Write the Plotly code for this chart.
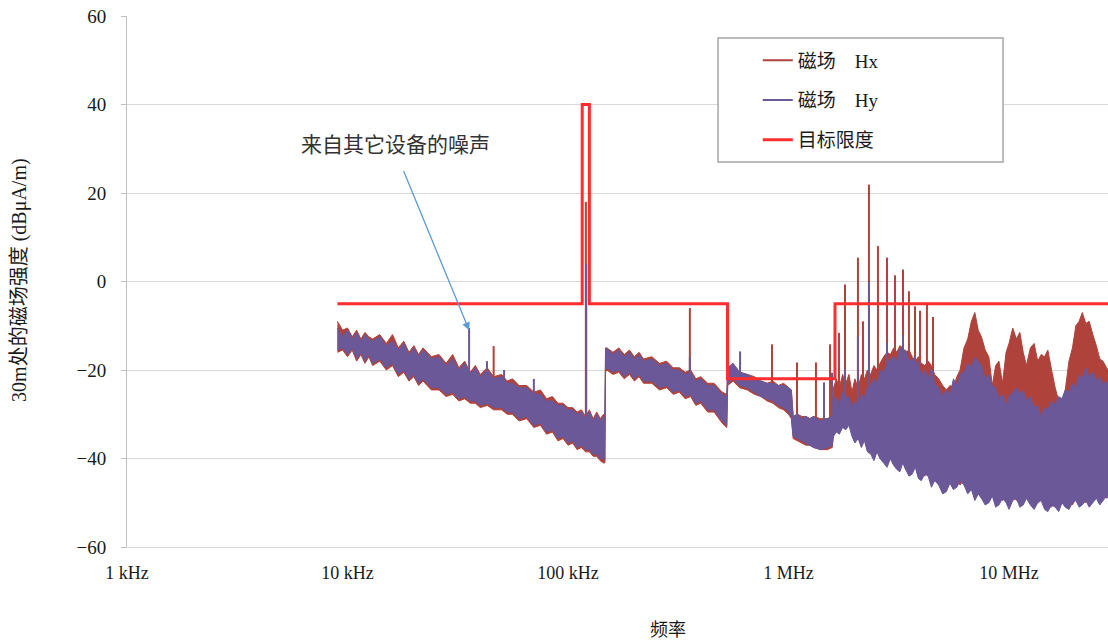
import math
import plotly.graph_objects as go

# ---------------- data ----------------
freq_khz = [
    9, 9.5, 10, 10.5, 11, 11.5, 12, 12.5, 13, 14,
    15, 16, 17, 18, 19, 20, 21, 22, 24, 26,
    28, 30, 32, 34, 36, 38, 40, 43, 46, 50,
    53, 56, 60, 65, 70, 75, 80, 85, 90, 95,
    100, 105, 110, 115, 120, 125, 130, 135, 140, 145,
    147,
    148, 150, 160, 170, 180, 190, 200, 210, 220, 240,
    260, 280, 300, 320, 340, 360, 380, 400, 430, 460,
    500, 525,
    530, 560, 600, 650, 700, 750, 800, 850, 900, 950,
    1000, 1030, 1050, 1100, 1150, 1200, 1250, 1300, 1400, 1500,
    1580,
    1600, 1650, 1700, 1760, 1820, 1880, 1940, 2000, 2070, 2140,
    2210, 2280, 2360, 2440, 2520, 2600, 2700, 2800, 2900, 3000,
    3100, 3200, 3300, 3400, 3520, 3640, 3760, 3880, 4000, 4150,
    4300, 4450, 4600, 4800, 5000, 5200, 5400, 5600, 5800, 6000,
    6250, 6500, 6750, 7000, 7250, 7500, 7800, 8100, 8400, 8700,
    9000, 9350, 9700, 10000, 10400, 10800, 11200, 11600, 12000, 12500,
    13000, 13500, 14000, 14500, 15000, 15600, 16200, 16800, 17400, 18000,
    18700, 19400, 20100, 20800, 21500, 22300, 23100, 24000, 24900, 25800,
    26700, 27700, 28200,
]

hy_hi = [
    -10.5, -12.5, -11.0, -13.0, -11.5, -13.5, -12.0, -13.0, -13.5, -12.5,
    -14.5, -13.5, -15.5, -14.0, -16.5, -15.0, -17.0, -15.5, -17.5, -17.0,
    -19.0, -17.5, -20.0, -18.5, -21.0, -19.5, -21.5, -20.0, -22.0, -21.5,
    -23.0, -23.0, -24.0, -24.0, -25.5, -25.5, -27.0, -27.0, -28.0, -28.0,
    -29.0, -29.0, -30.0, -29.5, -31.0, -29.5, -31.5, -30.0, -31.5, -30.5,
    -31.0,
    -15.5, -15.0, -16.5, -15.5, -17.0, -16.0, -17.5, -16.5, -18.0, -17.5,
    -19.0, -18.5, -20.0, -20.0, -21.0, -20.5, -22.5, -22.0, -23.5, -23.5,
    -25.5, -26.0,
    -19.5, -18.5, -20.5, -21.0, -22.0, -22.5, -23.0, -23.0, -23.5, -23.5,
    -24.0, -24.5, -30.5, -30.0, -31.0, -30.5, -31.0, -30.5, -31.5, -31.0,
    -30.5,
    -27.0, -26.0, -28.0, -25.0, -26.5, -26.0, -28.5, -27.0, -28.0, -25.5,
    -26.5, -24.0, -23.5, -22.0, -23.0, -20.0, -20.5, -18.5, -17.5, -17.0,
    -18.0, -15.0, -16.0, -15.5, -18.0, -17.5, -19.0, -18.0, -21.5, -20.0,
    -22.0, -19.5, -23.0, -24.0, -26.0, -24.5, -25.5, -22.0, -23.5, -21.0,
    -20.5, -18.5, -19.5, -17.0, -18.0, -19.0, -22.0, -21.0, -23.5, -24.0,
    -26.5, -25.5, -28.0, -26.0, -25.0, -24.0, -25.5, -24.5, -27.0, -26.0,
    -28.5, -28.0, -30.5, -28.5, -29.0, -27.0, -28.0, -26.0, -26.5, -24.5,
    -25.0, -23.0, -24.0, -21.0, -22.0, -19.5, -21.5, -20.5, -22.5, -21.5,
    -23.5, -22.5, -23.0,
]

hy_lo = [
    -15.5, -15.0, -16.5, -15.0, -17.5, -16.0, -18.0, -16.5, -18.5, -17.5,
    -19.5, -18.5, -21.0, -20.0, -22.0, -21.0, -23.0, -22.0, -24.0, -24.0,
    -25.5, -25.0, -26.5, -26.0, -27.0, -27.0, -28.0, -27.5, -28.5, -28.5,
    -29.5, -29.5, -31.0, -30.5, -32.5, -32.0, -34.0, -33.5, -35.5, -35.0,
    -36.5, -36.0, -37.5, -37.0, -38.0, -38.0, -39.0, -39.0, -40.0, -40.0,
    -40.5,
    -20.0, -19.5, -20.5, -20.0, -21.5, -20.5, -22.0, -21.0, -22.5, -22.5,
    -24.0, -23.5, -25.0, -24.5, -26.0, -25.5, -27.5, -27.0, -29.0, -29.0,
    -31.5, -32.5,
    -23.0, -22.0, -23.5, -24.0, -25.0, -26.0, -26.5, -27.0, -28.0, -28.5,
    -29.5, -30.5, -35.0, -35.5, -36.0, -36.5, -37.0, -37.5, -38.0, -37.5,
    -37.0,
    -35.0, -34.0, -34.5, -33.0, -33.5, -32.5, -35.0, -36.5, -35.5, -37.5,
    -36.0, -38.5, -39.0, -40.5, -38.5, -40.0, -41.0, -42.0, -40.0, -41.5,
    -42.5, -43.0, -41.0, -42.5, -44.0, -43.5, -42.0, -44.5, -45.0, -43.5,
    -44.0, -46.5, -45.0, -46.0, -48.0, -47.5, -45.5, -47.0, -46.5, -45.0,
    -46.0, -48.0, -47.0, -49.5, -48.0, -49.0, -50.5, -50.0, -48.5, -51.0,
    -50.5, -49.0, -50.0, -51.5, -49.5, -49.0, -51.0, -50.5, -49.0, -50.5,
    -51.5, -50.0, -49.5, -51.5, -52.0, -50.5, -51.0, -52.0, -50.0, -51.0,
    -51.5, -50.0, -49.5, -51.0, -50.5, -49.5, -51.0, -50.0, -49.0, -50.5,
    -49.5, -48.5, -49.0,
]

hx_hi = [
    -9.0, -11.0, -10.5, -12.5, -11.0, -13.0, -11.5, -12.5, -13.0, -12.0,
    -14.0, -12.0, -15.0, -13.5, -16.0, -14.5, -16.5, -15.0, -17.0, -16.5,
    -18.5, -16.5, -19.5, -18.0, -20.5, -19.0, -21.0, -19.5, -21.5, -21.0,
    -22.5, -22.0, -23.5, -23.5, -25.0, -24.5, -26.5, -26.0, -27.5, -27.5,
    -28.5, -28.5, -29.5, -29.0, -30.5, -29.0, -31.0, -29.5, -31.0, -30.0,
    -31.0,
    -15.0, -15.0, -16.0, -15.0, -16.5, -15.5, -17.0, -16.0, -17.5, -17.0,
    -18.5, -18.0, -19.5, -19.5, -20.5, -20.0, -22.0, -21.5, -23.0, -23.0,
    -25.0, -25.5,
    -19.5, -18.5, -20.5, -21.0, -21.5, -22.5, -23.0, -22.5, -23.5, -23.0,
    -24.0, -24.5, -30.5, -30.0, -30.5, -30.5, -31.0, -30.5, -31.0, -31.0,
    -30.5,
    -24.0, -22.0, -24.0, -21.0, -23.0, -21.0, -25.0, -22.0, -24.0, -21.0,
    -22.0, -20.0, -21.0, -19.0, -20.0, -18.5, -17.0, -16.0, -16.5, -15.0,
    -16.0, -14.5, -15.0, -16.0, -15.5, -17.0, -18.0, -17.0, -18.5, -19.0,
    -18.0, -19.0, -21.0, -22.0, -23.5, -24.5, -23.5, -24.0, -21.5, -20.0,
    -15.0, -13.0, -9.0, -7.0, -11.0, -12.5, -15.5, -17.0, -23.5, -19.0,
    -18.0, -23.0, -16.0, -14.0, -10.5, -13.0, -11.5, -16.0, -19.0, -15.0,
    -14.0, -18.0, -16.5, -17.0, -15.5, -20.0, -24.0, -27.0, -27.0, -24.5,
    -18.0, -15.0, -10.0, -9.0, -7.0, -9.5, -9.0, -12.0, -14.5, -17.5,
    -18.0, -19.5, -20.0,
]

hx_lo = [
    -16.0, -15.5, -17.0, -15.5, -18.0, -16.5, -18.5, -17.0, -19.0, -18.0,
    -20.0, -19.0, -21.5, -20.5, -22.5, -21.5, -23.5, -22.5, -24.5, -24.5,
    -26.0, -25.5, -27.0, -26.5, -27.5, -27.5, -28.5, -28.0, -29.0, -29.0,
    -30.0, -30.0, -31.5, -31.0, -33.0, -32.5, -34.5, -34.0, -36.0, -35.5,
    -37.0, -36.5, -38.0, -37.5, -38.5, -38.5, -39.5, -39.5, -40.5, -41.0,
    -41.0,
    -20.5, -20.0, -21.0, -20.5, -22.0, -21.0, -22.5, -21.5, -23.0, -23.0,
    -24.5, -24.0, -25.5, -25.0, -26.5, -26.0, -28.0, -27.5, -29.5, -29.5,
    -32.0, -33.0,
    -23.5, -22.5, -24.0, -24.5, -25.5, -26.0, -27.0, -27.5, -28.5, -29.0,
    -30.0, -31.0, -35.5, -36.0, -36.5, -37.0, -37.0, -37.5, -38.0, -38.0,
    -37.5,
    -34.0, -33.0, -34.0, -32.0, -33.0, -32.0, -34.0, -35.0, -34.0, -36.5,
    -35.5, -38.0, -37.0, -39.5, -38.0, -40.0, -39.0, -41.0, -40.0, -41.5,
    -40.0, -42.0, -40.5, -42.5, -41.0, -43.0, -41.5, -43.5, -42.0, -44.0,
    -42.5, -45.0, -43.5, -46.0, -44.5, -47.0, -45.5, -47.0, -44.5, -46.0,
    -44.5, -46.5, -45.0, -48.0, -46.5, -49.0, -47.5, -49.5, -48.0, -50.0,
    -48.5, -49.5, -48.0, -49.5, -48.0, -49.5, -48.5, -50.0, -48.5, -50.0,
    -48.5, -50.0, -49.0, -50.5, -49.0, -51.0, -49.5, -51.0, -49.5, -50.5,
    -49.0, -50.5, -49.0, -50.0, -48.5, -50.0, -48.5, -49.5, -48.0, -49.5,
    -47.5, -49.0, -48.0,
]

# narrow spectral lines (frequency kHz, peak dB, foot dB)
hx_spike_khz = [16, 46, 120.5, 357, 842, 1093, 1332, 1543, 1694, 1804, 2065, 2177,
                2317, 2545, 2798, 3042, 3306, 3518, 3747, 3948, 4245, 4522]
hx_spike_peak = [-12.4, -14.6, 18, -6, -14.2, -18.3, -18.3, -14.2, -11.6, -0.7, 5.4, -9,
                 21.9, 8, 5.4, 1.4, 2.7, -2.2, -5.6, -6.6, -4.8, -8]
hx_spike_base = [-16, -22, -31, -21, -23, -31, -31, -31, -25, -24, -24, -22,
                 -20, -20, -17, -16, -16, -17, -18, -18, -19, -21]

hy_spike_khz = [35.6, 42.9, 51.3, 70, 121, 357, 603, 1449, 1575, 1804, 2065,
                2317, 2798, 3306, 3747]
hy_spike_peak = [-10.5, -18, -20, -22, 4, -17, -15.8, -22.8, -20.6, -19.9, -12.4,
                 0, -13.8, -12, -16.9]
hy_spike_base = [-23, -24, -25, -28, -33, -22, -22, -33, -32, -28, -28,
                 -24, -20, -17, -20]

# target limit (step line)
limit_khz = [9, 116, 116, 125, 125, 529, 529, 1625, 1625, 28200]
limit_db = [-5, -5, 40, 40, -5, -5, -22, -22, -5, -5]

x_tick_hz = [1e3, 1e4, 1e5, 1e6, 1e7]
x_tick_text = ["1 kHz", "10 kHz", "100 kHz", "1 MHz", "10 MHz"]
y_ticks = [-60, -40, -20, 0, 20, 40, 60]

assert len(freq_khz) == len(hy_hi) == len(hy_lo) == len(hx_hi) == len(hx_lo)

# ---------------- styling ----------------
HX = "#b0423c"
HY = "#6a5898"
LIM = "#ff2d2d"
SERIF = "Liberation Serif, Noto Sans CJK SC, serif"
CJK = "Noto Sans CJK SC, sans-serif"


def band(f, hi, lo):
    xs = [v * 1e3 for v in f] + [v * 1e3 for v in reversed(f)]
    ys = list(hi) + list(reversed(lo))
    return xs, ys


def spikes(f, peak, base):
    xs, ys = [], []
    for a, p, b in zip(f, peak, base):
        xs += [a * 1e3, a * 1e3, None]
        ys += [b, p, None]
    return xs, ys


fig = go.Figure()

bx, by = band(freq_khz, hx_hi, hx_lo)
fig.add_trace(go.Scatter(x=bx, y=by, mode="lines", fill="toself", fillcolor=HX,
                         line=dict(color=HX, width=1), legendgroup="hx",
                         showlegend=False, hoverinfo="skip"))
sx, sy = spikes(hx_spike_khz, hx_spike_peak, hx_spike_base)
fig.add_trace(go.Scatter(x=sx, y=sy, mode="lines", line=dict(color=HX, width=2),
                         name="磁场\u00a0\u00a0\u00a0 Hx", legendgroup="hx"))

bx, by = band(freq_khz, hy_hi, hy_lo)
fig.add_trace(go.Scatter(x=bx, y=by, mode="lines", fill="toself", fillcolor=HY,
                         line=dict(color=HY, width=1), legendgroup="hy",
                         showlegend=False, hoverinfo="skip"))
sx, sy = spikes(hy_spike_khz, hy_spike_peak, hy_spike_base)
fig.add_trace(go.Scatter(x=sx, y=sy, mode="lines", line=dict(color=HY, width=2),
                         name="磁场\u00a0\u00a0\u00a0 Hy", legendgroup="hy"))

fig.add_trace(go.Scatter(x=[v * 1e3 for v in limit_khz], y=limit_db, mode="lines",
                         line=dict(color=LIM, width=3), name="目标限度",
                         legendgroup="lim"))

fig.update_layout(
    width=1108, height=641,
    margin=dict(l=127, r=0, t=16, b=94, autoexpand=False),
    paper_bgcolor="white", plot_bgcolor="white",
    font=dict(family=SERIF, size=18, color="#1a1a1a"),
    showlegend=True,
    legend=dict(x=0.643, y=0.952, xanchor="left", yanchor="top",
                bgcolor="rgba(0,0,0,0)", borderwidth=0,
                font=dict(family=SERIF, size=19, color="#1a1a1a"),
                traceorder="grouped", tracegroupgap=12),
    shapes=[dict(type="rect", xref="paper", yref="paper",
                 x0=0.6025, x1=0.893, y0=0.725, y1=0.9586,
                 line=dict(color="#a6a6a6", width=1.5), fillcolor="white",
                 layer="above")],
    annotations=[
        dict(xref="paper", yref="paper", x=0.2732, y=0.7608,
             xanchor="center", yanchor="middle",
             text="来自其它设备的噪声", showarrow=False,
             font=dict(family=CJK, size=21, color="#333333")),
        dict(xref="x", yref="y", axref="x", ayref="y",
             x=math.log10(hy_spike_khz[0] * 1e3), y=hy_spike_peak[0] - 0.5,
             ax=4.2517, ay=25.3, text="", showarrow=True,
             arrowhead=2, arrowsize=1.2, arrowwidth=1.3,
             arrowcolor="#5b9bd5", standoff=0),
        dict(xref="paper", yref="paper", x=0.5515, y=-0.1525,
             xanchor="center", yanchor="middle", showarrow=False,
             text="频率", font=dict(family=CJK, size=18, color="#1a1a1a")),
        dict(xref="paper", yref="paper", x=-0.1091, y=0.503,
             xanchor="center", yanchor="middle", showarrow=False, textangle=-90,
             text="30m处的磁场强度 (dBμA/m)",
             font=dict(family=SERIF, size=20, color="#1a1a1a")),
    ],
)

fig.update_xaxes(type="log", range=[3, 7.449],
                 tickvals=x_tick_hz, ticktext=x_tick_text,
                 showgrid=False, zeroline=False, automargin=False,
                 showline=True, linecolor="#d9d9d9", linewidth=1,
                 ticks="", ticklabelstandoff=9, ticklabeloverflow="allow",
                 tickfont=dict(family=SERIF, size=18, color="#1a1a1a"))

fig.update_yaxes(range=[-60, 60], tickvals=y_ticks, automargin=False,
                 showgrid=True, gridcolor="#d9d9d9", gridwidth=1,
                 zeroline=False, showline=True, linecolor="#bfbfbf", linewidth=1,
                 ticks="outside", ticklen=5, tickcolor="#bfbfbf",
                 ticklabelstandoff=11, ticklabeloverflow="allow",
                 tickfont=dict(family=SERIF, size=19, color="#1a1a1a"))

# remove the browser's default page margin so the figure sits at the page corner
fig.write_html("out.html", config={"displayModeBar": False},
               post_script="document.body.style.margin='0px';")
